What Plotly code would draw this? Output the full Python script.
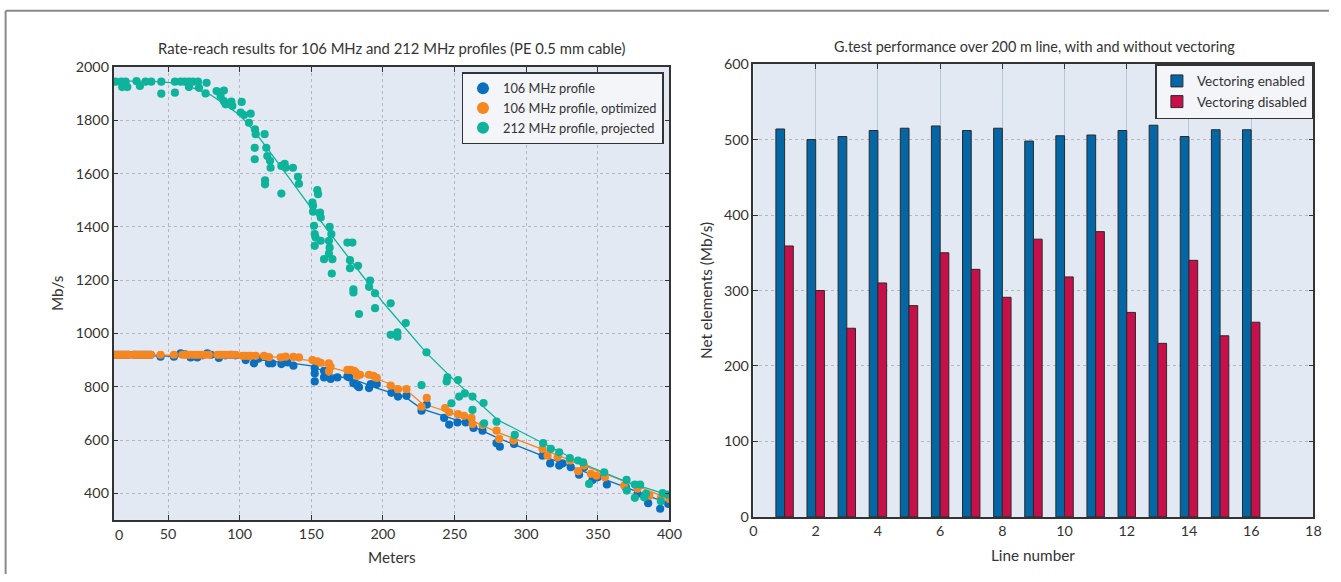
import plotly.graph_objects as go

# ---------------- Left chart data (Meters vs Mb/s) ----------------
band_x = [12, 13.5, 15, 16.5, 18, 19.5, 21, 22.5, 26, 27.5, 29, 30.5, 32, 33.5, 35, 36.5, 38]

p106_x = band_x + [44.8, 54.1, 58.8, 62, 65.8, 70.4, 74, 77.4, 80, 85.5, 90, 93.7, 97, 104.2, 110, 113,
                   120.5, 122.8, 129.1, 133.3, 137.5, 152.4, 152.4, 152.4, 158.9, 158.9, 163.5, 168.2,
                   175.2, 176.6, 182.2, 179.4, 183.3, 190.3, 191.5, 195.7, 205.9, 210.5, 216.4, 226.9,
                   230.6, 242.7, 246.2, 252, 257.8, 263.2, 269.5, 279.3, 281.6, 291.5, 311.4, 316.7,
                   323, 325.3, 331.1, 336.9, 340.4, 346.3, 349.8, 356.3, 369.5, 377.7, 385.1, 393.5, 399.1]
p106_y = [920] * len(band_x) + [913, 913, 925, 922, 910, 910, 918, 925, 920, 908, 918, 920, 918, 900, 888, 905,
                                888, 888, 885, 891, 879, 870, 850, 820, 860, 835, 829, 835,
                                838, 835, 804, 813, 798, 795, 810, 810, 777, 763, 766, 710,
                                733, 683, 658, 666, 666, 645, 635, 588, 575, 585, 541, 512,
                                504, 512, 498, 470, 498, 450, 460, 433, 423, 398, 363, 342, 360]

opt_x = band_x + [44.8, 54.1, 60, 62, 64, 66, 68, 70, 72, 74, 76, 78.5, 84.4, 86, 88, 90, 92, 95, 97.2,
                  101.9, 104, 106, 108, 111.2, 117, 120.5, 128.6, 132.1, 137.5, 141.4, 150.8, 154.2, 156.6,
                  162.3, 163.5, 162.3, 175.2, 177.5, 179.9, 181, 182.2, 184, 190.3, 193.3, 195.7, 205.4,
                  210.5, 216.4, 226.9, 230.6, 243.4, 246.2, 252.4, 256.6, 261.8, 262.5, 269.5, 279.3,
                  281.1, 291.1, 311.4, 314.9, 321.9, 330.7, 336.2, 340.4, 345.1, 349, 354.9, 368.4,
                  377.7, 385.9, 394, 399.9]
opt_y = [920] * len(band_x) + [920, 920, 920, 920, 920, 920, 920, 920, 920, 920, 920, 920, 920, 920, 920, 920, 920, 920, 920,
                               916, 916, 916, 916, 916, 916, 911, 910, 913, 912, 910, 900, 895, 890,
                               888, 875, 858, 863, 863, 860, 854, 841, 845, 845, 841, 833, 804,
                               791, 791, 725, 758, 720, 704, 697, 691, 683, 660, 656, 635,
                               604, 598, 566, 541, 535, 523, 483, 504, 473, 466, 460, 429,
                               417, 391, 383, 379]

p212_x = [13.4, 17.4, 20.4, 18, 21.6, 28, 30.4, 34.3, 38.3, 45.3, 45.3, 54.8, 54.8, 58.8, 61.6, 64.6, 64.6,
          67.4, 70.9, 71.6, 76.9, 76.2, 83.9, 89, 86.7, 89, 90.2, 94.2, 94.9, 101.4, 100.7, 103, 107.7,
          106.5, 110.7, 111.2, 117.4, 110.5, 110.5, 118.6, 119.3, 121.2, 121.6, 129.1, 131.4, 132.1,
          137.2, 140.7, 141.4, 117.7, 117.7, 129.1, 154.2, 154.7, 150.8, 151.2, 151.2, 156.1, 156.6,
          151.9, 152.4, 153, 156.6, 152.4, 162.8, 164, 162.3, 162.8, 162.3, 158.9, 164.7, 164.3, 175.2,
          178.7, 177, 177, 182.6, 191, 190.3, 194.5, 179.4, 179.4, 183.3, 194.5, 205.4, 205.4, 210.1,
          210.1, 215.9, 230.4, 245, 244.5, 252.4, 226.9, 253.2, 257.1, 262.5, 247.8, 262.5, 270.2,
          270.6, 279.3, 292, 311.8, 317.2, 323, 330.4, 336.2, 339.7, 343.9, 354.4, 370, 370.2, 375.8,
          379.5, 375.8, 383.5, 382.3, 394, 395.2, 398.7]
p212_y = [1945, 1945, 1945, 1925, 1925, 1947, 1929, 1945, 1945, 1945, 1900, 1945, 1904, 1945, 1945, 1945, 1925,
          1945, 1945, 1922, 1941, 1901, 1910, 1912, 1891, 1872, 1860, 1870, 1854, 1869, 1829, 1820, 1825,
          1791, 1766, 1748, 1748, 1697, 1654, 1697, 1666, 1648, 1622, 1629, 1637, 1622,
          1622, 1588, 1562, 1575, 1560, 1525, 1538, 1523, 1491, 1479, 1457, 1454, 1435,
          1404, 1373, 1360, 1348, 1329, 1400, 1373, 1348, 1322, 1300, 1279, 1279, 1225, 1341,
          1341, 1275, 1245, 1254, 1198, 1175, 1151, 1166, 1154, 1073, 1095, 1113, 995, 1004,
          988, 1039, 929, 835, 820, 825, 806, 763, 775, 763, 738, 713, 739,
          663, 669, 619, 588, 567, 554, 532, 523, 516, 435, 479, 450, 410, 433,
          433, 383, 398, 385, 370, 401, 395]

# fitted curves
fit106_x = [12, 100, 140, 150, 164, 182, 194, 216, 227, 257, 280, 311, 340, 370, 400]
fit106_y = [920, 908, 886, 878, 845, 823, 798, 760, 717, 665, 608, 541, 482, 420, 360]
fitopt_x = [12, 100, 130, 150, 165, 180, 196, 217, 227, 257, 280, 311, 340, 370, 400]
fitopt_y = [920, 917, 910, 898, 870, 850, 829, 785, 738, 685, 629, 566, 505, 441, 379]
fit212_x = [12, 40, 60, 80, 100, 110, 120, 140, 160, 180, 200, 230, 250, 280, 310, 340, 370, 400]
fit212_y = [1948, 1946, 1938, 1895, 1820, 1760, 1690, 1545, 1397, 1257, 1117, 929, 823, 676, 594, 510, 443, 392]

# ---------------- Right chart data ----------------
lines = list(range(1, 17))
vec_on = [514, 500, 504, 512, 515, 518, 512, 515, 498, 505, 506, 512, 519, 504, 513, 513]
vec_off = [359, 300, 250, 310, 280, 350, 328, 291, 368, 318, 378, 271, 230, 340, 240, 258]

left_xticks = [50, 100, 150, 200, 250, 300, 350, 400]
left_yticks = [400, 600, 800, 1000, 1200, 1400, 1600, 1800, 2000]
right_xticks = [0, 2, 4, 6, 8, 10, 12, 14, 16, 18]
right_yticks = [0, 100, 200, 300, 400, 500, 600]

FONT = "Lato, sans-serif"
TXT = "#333333"
C_BLUE = "#0b6fc0"
C_ORANGE = "#f6861f"
C_TEAL = "#0db39a"

fig = go.Figure()

fig.add_trace(go.Scatter(x=fit106_x, y=fit106_y, mode="lines", line=dict(color=C_BLUE, width=1.3),
                         showlegend=False, xaxis="x", yaxis="y", hoverinfo="skip"))
fig.add_trace(go.Scatter(x=fitopt_x, y=fitopt_y, mode="lines", line=dict(color=C_ORANGE, width=1.3),
                         showlegend=False, xaxis="x", yaxis="y", hoverinfo="skip"))
fig.add_trace(go.Scatter(x=fit212_x, y=fit212_y, mode="lines", line=dict(color=C_TEAL, width=1.3),
                         showlegend=False, xaxis="x", yaxis="y", hoverinfo="skip"))

fig.add_trace(go.Scatter(x=p106_x, y=p106_y, mode="markers", name="106 MHz profile",
                         marker=dict(color=C_BLUE, size=8.2), xaxis="x", yaxis="y", legend="legend"))
fig.add_trace(go.Scatter(x=opt_x, y=opt_y, mode="markers", name="106 MHz profile, optimized",
                         marker=dict(color=C_ORANGE, size=8.2), xaxis="x", yaxis="y", legend="legend"))
fig.add_trace(go.Scatter(x=p212_x, y=p212_y, mode="markers", name="212 MHz profile, projected",
                         marker=dict(color=C_TEAL, size=8.2), xaxis="x", yaxis="y", legend="legend"))

fig.add_trace(go.Bar(x=lines, y=vec_on, name="Vectoring enabled", marker=dict(color="#0566a6", line=dict(color="#2a2a2a", width=1)),
                     xaxis="x2", yaxis="y2", legend="legend2"))
fig.add_trace(go.Bar(x=lines, y=vec_off, name="Vectoring disabled", marker=dict(color="#c70f4a", line=dict(color="#2a2a2a", width=1)),
                     xaxis="x2", yaxis="y2", legend="legend2"))

# Layout positions are given in picture pixels; the page shows the figure inside an
# 8 px body margin and the photo is scaled back to 1341x582, so map accordingly.
W, H = 1341, 582
OFF = 8
DX = 4.5
SX = (W + 2 * OFF) / W
SY = (H + 2 * OFF) / H
def px(x):
    return ((x + DX) * SX - OFF) / W
def py(y):
    return 1 - (y * SY - OFF) / H

axis_common = dict(showline=True, linecolor="#333333", linewidth=1.5, mirror="ticks", ticks="inside",
                   ticklen=5, tickwidth=1.2, tickcolor="#333333", zeroline=False,
                   tickfont=dict(family=FONT, size=14.3, color=TXT))

def label(text, x, y, angle=0, size=15.3):
    return dict(text=text, x=px(x), y=py(y), xref="paper", yref="paper", showarrow=False,
                xanchor="center", yanchor="middle", textangle=angle,
                font=dict(family=FONT, size=size, color=TXT))

fig.update_layout(
    width=W, height=H, margin=dict(l=0, r=0, t=0, b=0), autosize=False,
    paper_bgcolor="white", plot_bgcolor="#e3e9f2",
    font=dict(family=FONT, color=TXT),
    barmode="group", bargap=0.44, bargroupgap=0,
    xaxis=dict(domain=[px(113), px(669)], range=[12, 400], tickvals=left_xticks,
               showgrid=True, gridcolor="#b4b8be", griddash="dot", gridwidth=1, anchor="y", **axis_common),
    yaxis=dict(domain=[py(520), py(66)], range=[300, 2000], tickvals=left_yticks,
               showgrid=True, gridcolor="#b4b8be", griddash="dot", gridwidth=1, anchor="x", **axis_common),
    xaxis2=dict(domain=[px(753), px(1313)], range=[0, 18], tickvals=right_xticks,
                showgrid=True, gridcolor="#b7c8d8", gridwidth=1, anchor="y2", **axis_common),
    yaxis2=dict(domain=[py(517), py(63)], range=[0, 600], tickvals=right_yticks,
                showgrid=True, gridcolor="#b4b8be", griddash="dot", gridwidth=1, anchor="x2", **axis_common),
    legend=dict(x=px(663), xanchor="right", y=py(71), yanchor="top", bgcolor="#f3f5f9",
                bordercolor="#333333", borderwidth=1.5, font=dict(family=FONT, size=12.8, color=TXT),
                tracegroupgap=0, itemsizing="constant"),
    legend2=dict(x=px(1313), xanchor="right", y=py(63), yanchor="top", bgcolor="#f3f5f9",
                 bordercolor="#333333", borderwidth=1.5, font=dict(family=FONT, size=13.6, color=TXT)),
    shapes=[
        dict(type="line", xref="paper", yref="paper", x0=px(5), x1=1, y0=py(9.5), y1=py(9.5),
             line=dict(color="#8a8a8a", width=2)),
        dict(type="line", xref="paper", yref="paper", x0=px(5), x1=px(5), y0=py(9.5), y1=0,
             line=dict(color="#8a8a8a", width=2)),
    ],
    annotations=[
        label("Rate-reach results for 106 MHz and 212 MHz profiles (PE 0.5 mm cable)", 391, 47, size=14.8),
        label("G.test performance over 200 m line, with and without vectoring", 1034, 45, size=14.4),
        label("Meters", 391, 557),
        label("Mb/s", 57, 293, angle=-90),
        label("Line number", 1033, 555),
        label("Net elements (Mb/s)", 705, 290, angle=-90),
        dict(text="0", x=16, xref="x", y=py(535), yref="paper", showarrow=False,
             xanchor="center", yanchor="middle", font=dict(family=FONT, size=14.3, color=TXT)),
    ],
)

fig.write_html("out.html")
